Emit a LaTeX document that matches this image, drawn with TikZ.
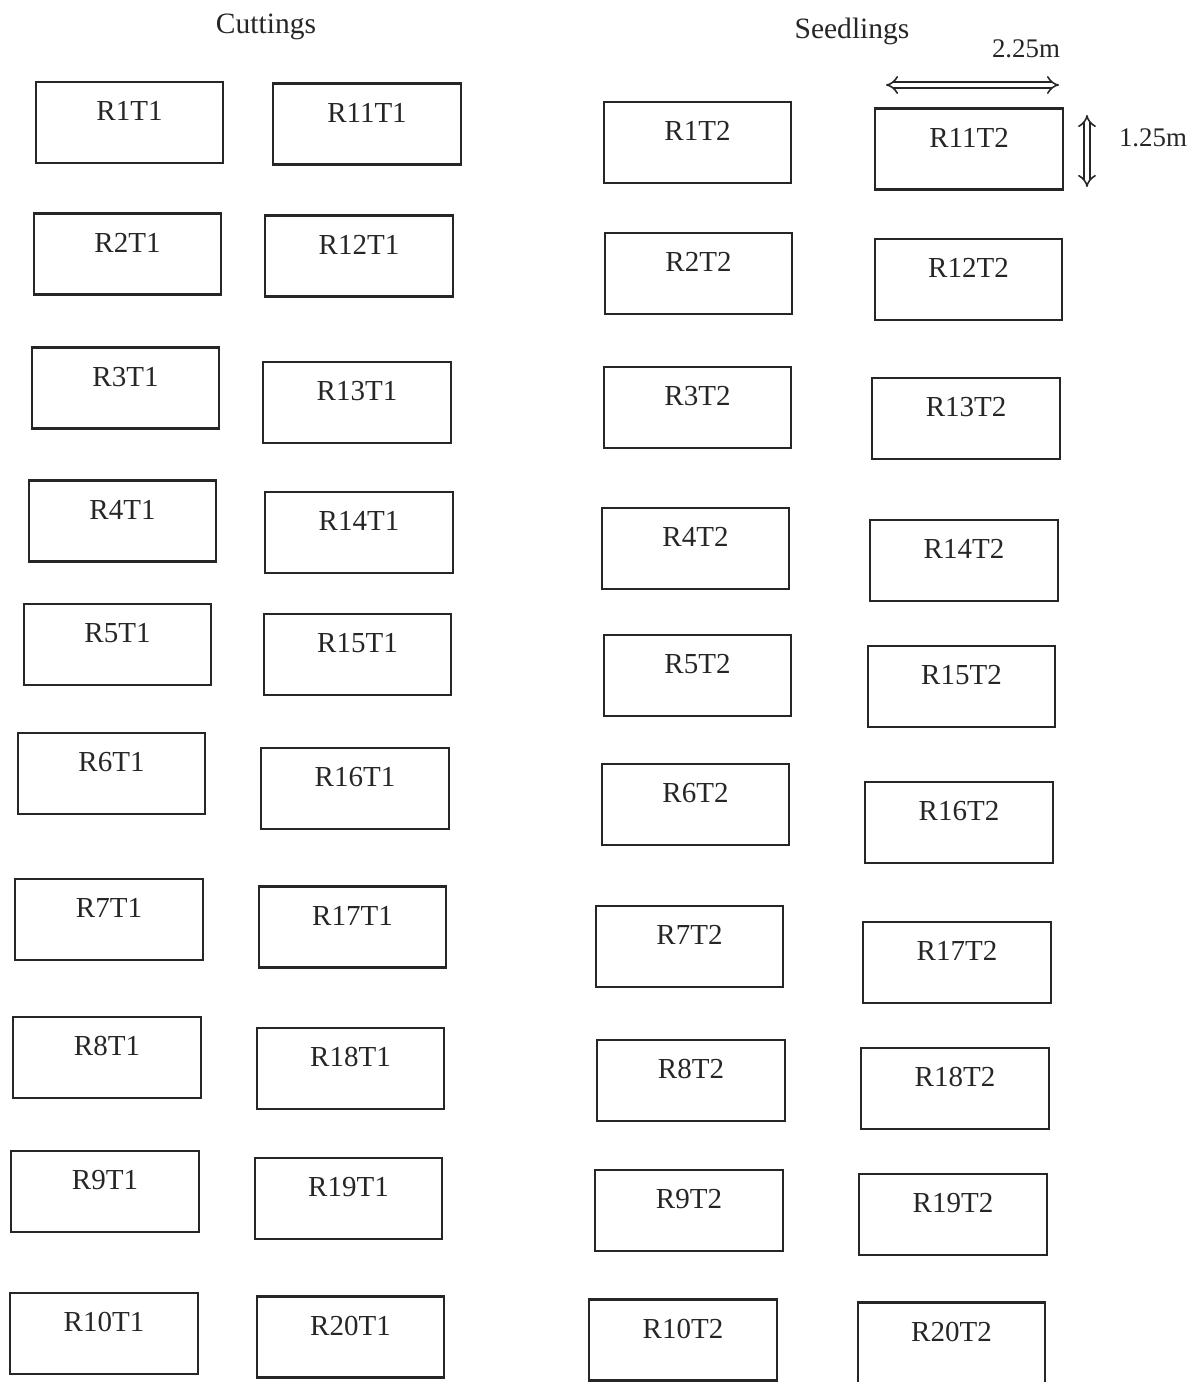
\documentclass[tikz,border=0pt]{standalone}
\usepackage{fontspec}
\setmainfont{Liberation Serif}
\usetikzlibrary{arrows.meta}
\begin{document}
\begin{tikzpicture}[x=0.02cm,y=-0.02cm,
  plotbox/.style={draw=black!85, line width=1.35pt, minimum width=3.75cm, minimum height=1.62cm, inner sep=0pt},
  lbl/.style={font=\fontsize{16.5}{18}\selectfont, text=black!85, anchor=base, inner sep=0pt},
  ttl/.style={font=\fontsize{16.8}{19}\selectfont, text=black!85, anchor=base, inner sep=0pt},
  dim/.style={font=\fontsize{15.3}{17}\selectfont, text=black!85, anchor=base, inner sep=0pt},
  dimarrow/.style={draw=black!85, double, double distance=2.6pt, line width=0.9pt, {Implies}-{Implies}}]
\useasboundingbox (0,0) rectangle (1203,1382);
\node[ttl] (cut) at (266,34) {Cuttings};
\node[ttl] (seed) at (852,39) {Seedlings};
\foreach \n/\cx/\cy in {
  R1T1/129.5/122.5, R2T1/127.5/254, R3T1/125.5/388, R4T1/122.5/521, R5T1/117.5/644.5,
  R6T1/111.5/773.5, R7T1/109/919.5, R8T1/107/1057.5, R9T1/105/1191.5, R10T1/104/1333.5,
  R11T1/367/124, R12T1/359/256, R13T1/357/402.5, R14T1/359/532.5, R15T1/357.5/654.5,
  R16T1/355/788.5, R17T1/352.5/927, R18T1/350.5/1068.5, R19T1/348.5/1198.5, R20T1/350.5/1337,
  R1T2/697.5/142.5, R2T2/698.5/273.5, R3T2/697.5/407.5, R4T2/695.5/548.5, R5T2/697.5/675.5,
  R6T2/695.5/804.5, R7T2/689.5/946.5, R8T2/691/1080.5, R9T2/689/1210.5, R10T2/683/1340,
  R11T2/969/149, R12T2/968.5/279.5, R13T2/966/418.5, R14T2/964/560.5, R15T2/961.5/686.5,
  R16T2/959/822.5, R17T2/957/962.5, R18T2/955/1088.5, R19T2/953/1214.5, R20T2/951.5/1343}{
  \node[plotbox] (\n) at (\cx,\cy) {};
  \node[lbl] (\n-l) at ([yshift=-0.80cm]\n.north) {\n};
}
\coordinate (hA) at (886,85);
\coordinate (hB) at (1059,85);
\coordinate (vA) at (1087,115);
\coordinate (vB) at (1087,187);
\draw[dimarrow] (hA) -- (hB);
\draw[dimarrow] (vA) -- (vB);
\node[dim] (wlab) at (1026,58) {2.25m};
\node[dim] (hlab) at (1153,147) {1.25m};
\end{tikzpicture}
\end{document}
